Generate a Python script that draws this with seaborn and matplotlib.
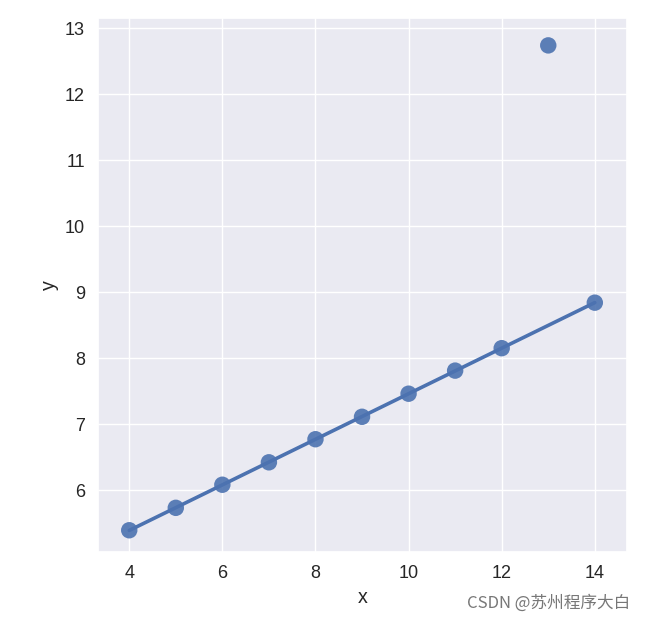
import matplotlib
matplotlib.use('Agg')
import matplotlib.pyplot as plt
import numpy as np
import pandas as pd
import seaborn as sns

# Anscombe dataset III
x = [10, 8, 13, 9, 11, 14, 6, 4, 12, 7, 5]
y = [7.46, 6.77, 12.74, 7.11, 7.81, 8.84, 6.08, 5.39, 8.15, 6.42, 5.73]

df = pd.DataFrame({'x': x, 'y': y})

sns.set_theme(style='darkgrid', font_scale=1.18)
plt.rcParams['font.family'] = ['Liberation Sans', 'Noto Sans CJK SC', 'DejaVu Sans']

fig = plt.figure(figsize=(6.45, 6.22), dpi=100)
ax = fig.add_axes([0.152, 0.1125, 0.820, 0.858])

# robust fit: the outlier gets no weight, so fit on the remaining points
resid = df['y'] - np.polyval(np.polyfit(df['x'], df['y'], 1), df['x'])
inliers = df[resid.abs() < resid.abs().max()]

sns.regplot(data=inliers, x='x', y='y', ci=None, scatter=False, truncate=True,
            ax=ax, color='#4c72b0', line_kws={'lw': 2.6})
sns.scatterplot(data=df, x='x', y='y', ax=ax, s=140, color='#4c72b0',
                edgecolor='none', alpha=0.9, zorder=3)

ax.set_xlim(3.33, 14.69)
ax.set_ylim(5.06, 13.15)
ax.set_xticks([4, 6, 8, 10, 12, 14])
ax.set_yticks([6, 7, 8, 9, 10, 11, 12, 13])

fig.text(0.977, 0.017, 'CSDN @苏州程序大白', ha='right', va='bottom',
         fontsize=12, color='#777777',
         family=['Noto Sans CJK SC', 'DejaVu Sans'])

fig.savefig('out.png', dpi=100)
